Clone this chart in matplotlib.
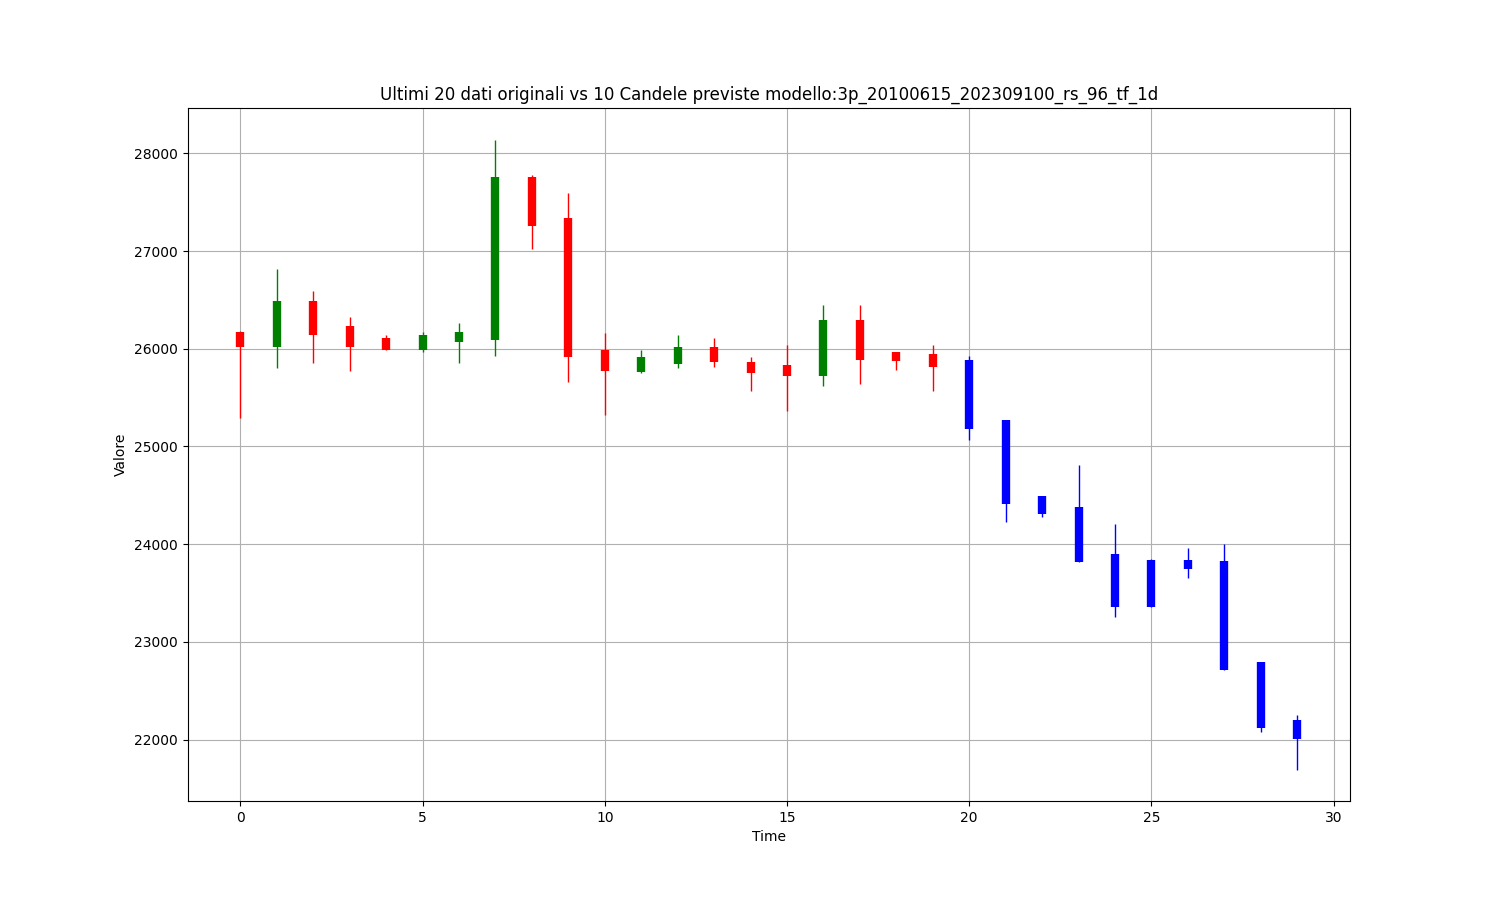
import matplotlib
matplotlib.use("Agg")
import matplotlib.pyplot as plt

# ultimi 20 dati originali
orig_open  = [26170, 26020, 26485, 26229, 26106, 25983, 26065, 26085, 27762, 27342,
              25990, 25764, 25843, 26020, 25867, 25836, 25726, 26297, 25962, 25949]
orig_close = [26020, 26485, 26143, 26020, 25983, 26143, 26167, 27762, 27260, 25911,
              25768, 25918, 26020, 25860, 25757, 25726, 26297, 25880, 25870, 25809]
orig_high  = [26177, 26820, 26587, 26321, 26137, 26170, 26259, 28141, 27776, 27591,
              26160, 25990, 26143, 26113, 25918, 26041, 26451, 26451, 25962, 26041]
orig_low   = [25296, 25808, 25857, 25775, 25983, 25966, 25857, 25921, 27017, 25655,
              25327, 25747, 25799, 25809, 25563, 25368, 25614, 25641, 25785, 25563]

# 10 candele previste
pred_open  = [25887, 25266, 24497, 24385, 23903, 23838, 23838, 23828, 22793, 22198]
pred_close = [25180, 24412, 24306, 23821, 23357, 23357, 23749, 22711, 22122, 22003]
pred_high  = [25921, 25266, 24497, 24811, 24207, 23848, 23961, 24000, 22793, 22250]
pred_low   = [25068, 24231, 24282, 23821, 23258, 23357, 23657, 22711, 22081, 21695]

fig, ax = plt.subplots(figsize=(15, 9), dpi=100)

for i in range(len(orig_open)):
    colore = "green" if orig_close[i] >= orig_open[i] else "red"
    ax.vlines(i, orig_low[i], orig_high[i], color=colore, linewidth=1)
    ax.vlines(i, orig_open[i], orig_close[i], color=colore, linewidth=6)

n = len(orig_open)
for j in range(len(pred_open)):
    ax.vlines(n + j, pred_low[j], pred_high[j], color="blue", linewidth=1)
    ax.vlines(n + j, pred_open[j], pred_close[j], color="blue", linewidth=6)

ax.set_title("Ultimi 20 dati originali vs 10 Candele previste modello:3p_20100615_202309100_rs_96_tf_1d")
ax.set_xlabel("Time")
ax.set_ylabel("Valore")
ax.grid(True)

fig.savefig("out.png")
